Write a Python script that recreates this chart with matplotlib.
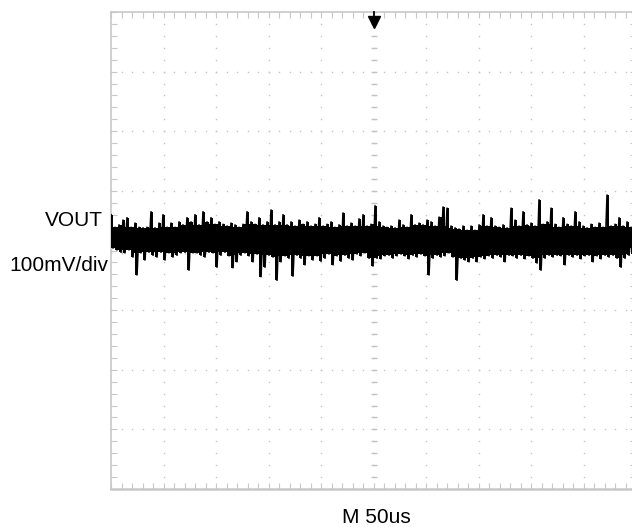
import numpy as np
import matplotlib.pyplot as plt

# scope capture: VOUT ripple, 100 mV/div, 50 us/div
dt = 3.81  # us between envelope columns

# upper / lower envelope of the trace in mV, read column by column
vout_hi = [60, 39, 43, 51, 55, 39, 46, 39, 38, 39, 65, 38, 46, 60, 39, 46, 39, 48, 43, 55, 48,
           60, 43, 65, 48, 55, 44, 48, 44, 41, 46, 43, 39, 44, 65, 48, 44, 55, 43, 48, 68, 43, 48,
           60, 43, 48, 41, 51, 44, 48, 41, 44, 55, 41, 44, 48, 39, 43, 63, 41, 46, 41, 53, 60,
           41, 44, 75, 48, 41, 39, 41, 38, 51, 43, 39, 60, 43, 46, 43, 51, 48, 41, 56, 73, 71,
           41, 38, 36, 41, 34, 41, 34, 43, 60, 41, 55, 41, 39, 43, 38, 71, 51, 41, 65, 43, 46, 41, 85,
           44, 48, 71, 44, 39, 55, 44, 41, 65, 48, 41, 38, 44, 39, 46, 39, 93, 41, 44, 55, 41, 48, 39]
vout_lo = [4, 1, -3, -4, 1, -11, -41, -4, -16, -3, -8, -11, -3, -16, -4, -11, -8, -4, -3, -33, -4,
           -4, -8, -11, -3, -4, -28, -8, -3, -9, -29, -19, -8, -4, -9, -19, -6, -44, -28, -8, -11, -50, -19,
           -9, -13, -43, -8, -13, -24, -9, -16, -9, -18, -13, -6, -24, -9, -18, -8, -13, -16, -6, -9, -4,
           -13, -26, -13, -14, -9, -8, -13, -9, -6, -9, -14, -8, -11, -6, -9, -41, -13, -8, -11, -9, -4,
           -11, -50, -13, -16, -19, -13, -19, -11, -14, -9, -13, -8, -11, -19, -8, -9, -13, -8, -14, -9, -13, -21, -33,
           -13, -8, -11, -8, -9, -24, -8, -11, -8, -14, -9, -8, -19, -9, -14, -8, -11, -8, -13, -28, -13, -8, -6]

ch_label = 'VOUT'
scale_label = '100mV/div'
time_label = 'M 50us'

W, H = 632, 527
fig = plt.figure(figsize=(W / 100, H / 100), dpi=100)
ax = fig.add_axes([111 / W, (H - 489) / H, 525 / W, 477 / H])
ax.set_xlim(0, 500)
ax.set_ylim(-400, 400)

grid_c = '#c4c4c4'
# dotted graticule
gx = np.arange(0, 501, 10)
gy = np.arange(-400, 401, 20)
for yv in range(-300, 400, 100):
    ax.plot(gx, np.full(gx.size, yv), ls='none', marker='s', ms=1.0, mew=0, color=grid_c, zorder=1)
for xv in range(50, 500, 50):
    ax.plot(np.full(gy.size, xv), gy, ls='none', marker='s', ms=1.0, mew=0, color=grid_c, zorder=1)
# centre line tick marks
ax.plot(np.full(gy.size, 250), gy, ls='none', marker='_', ms=5, mew=1.0, color=grid_c, zorder=1)
ax.plot(gx, np.zeros(gx.size), ls='none', marker='|', ms=5, mew=1.0, color=grid_c, zorder=1)

# trace: zig-zag between the envelopes plus the solid core of the band
hi = np.array(vout_hi, dtype=float)
lo = np.array(vout_lo, dtype=float)
t = np.arange(hi.size) * dt
core_hi = np.minimum(hi, np.minimum(np.roll(hi, 1), np.roll(hi, -1)))
core_lo = np.maximum(lo, np.maximum(np.roll(lo, 1), np.roll(lo, -1)))
ax.fill_between(t, core_lo, core_hi, step='mid', color='black', lw=0, zorder=3)
xs = np.empty(2 * t.size)
ys = np.empty(2 * t.size)
xs[0::2] = t
xs[1::2] = t + dt / 2
ys[0::2] = hi
ys[1::2] = lo
ax.plot(xs, ys, color='black', lw=1.2, zorder=3)
ax.vlines(t + dt / 4, lo, hi, color='black', lw=1.4, zorder=3)

# trigger marker
tr = ax.get_xaxis_transform()
ax.plot([250, 250], [1.0, 0.98], color='black', lw=1.3, transform=tr, clip_on=False, zorder=4)
ax.plot([250], [0.978], marker='v', ms=8, color='black', transform=tr, clip_on=False, zorder=4)

# frame and edge ticks
for s in ax.spines.values():
    s.set_color('#c8c8c8')
    s.set_linewidth(1.2)
ax.spines['bottom'].set_linewidth(1.8)
ax.set_xticks(np.arange(0, 501, 10))
ax.set_yticks(np.arange(-400, 401, 20))
ax.tick_params(direction='in', length=4, width=0.8, color='#c8c8c8',
               top=True, right=True, labelbottom=False, labelleft=False)

fig.text(103 / W, 1 - 226 / H, ch_label, ha='right', va='baseline', fontsize=15,
         family='Liberation Sans')
fig.text(108 / W, 1 - 271 / H, scale_label, ha='right', va='baseline', fontsize=15,
         family='Liberation Sans')
fig.text(376 / W, 1 - 523 / H, time_label, ha='center', va='baseline', fontsize=15,
         family='Liberation Sans')

fig.savefig('out.png', dpi=100)
